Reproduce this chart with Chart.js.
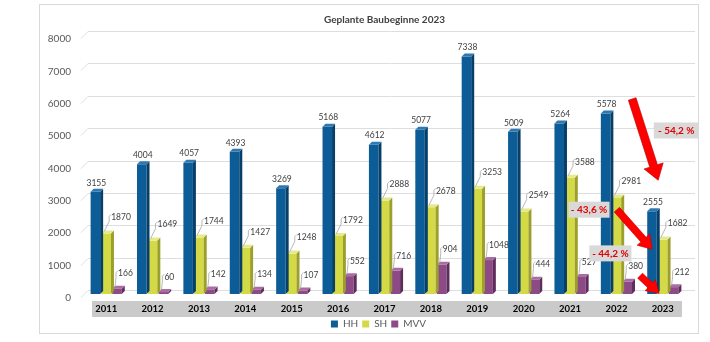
<!DOCTYPE html>
<html>
<head>
<meta charset="utf-8">
<script src="https://cdn.jsdelivr.net/npm/chart.js@4"></script>
<style>
  html, body { margin: 0; padding: 0; background: #fff; }
  #wrap { width: 710px; height: 342px; }
</style>
</head>
<body>
<div id="wrap"><canvas id="baubeginne"></canvas></div>
<script>
// ===== 1. Daten =====
const jahre = ['2011', '2012', '2013', '2014', '2015', '2016', '2017', '2018', '2019', '2020', '2021', '2022', '2023'];

const hh  = [3155, 4004, 4057, 4393, 3269, 5168, 4612, 5077, 7338, 5009, 5264, 5578, 2555];
const sh  = [1870, 1649, 1744, 1427, 1248, 1792, 2888, 2678, 3253, 2549, 3588, 2981, 1682];
const mvv = [166, 60, 142, 134, 107, 552, 716, 904, 1048, 444, 527, 380, 212];

const yMax = 8000;
const yStep = 1000;

// Rückgang 2022 -> 2023 (HH, SH, MVV)
const rueckgang = ['- 54,2 %', '- 43,6 %', '- 44,2 %'];

const schrift = 'Lato, "Open Sans", sans-serif';


// ===== 2. Plugins =====

// Hintergrund, Rahmen, Rückwand-Gitter und graues Jahresband
const hintergrund = {
  id: 'hintergrund',
  afterLayout(chart) {
    // Legende etwas nach links, wie im Original
    chart.legend.left -= 6;
    chart.legend.right -= 6;
  },
  beforeDraw(chart) {
    const { ctx, chartArea: a, scales: { y } } = chart;
    ctx.save();
    ctx.fillStyle = '#fff';
    ctx.fillRect(0, 0, chart.width, chart.height);

    ctx.strokeStyle = '#d9d9d9';
    ctx.lineWidth = 1;
    ctx.strokeRect(39.5, 4.5, 659, 329);

    ctx.strokeStyle = '#dedede';
    y.ticks.forEach(t => {
      const py = Math.round(y.getPixelForValue(t.value)) - 3.5;
      ctx.beginPath();
      ctx.moveTo(a.left - 2, py + 7);
      ctx.lineTo(a.left + 5, py);
      ctx.lineTo(a.right + 9, py);
      ctx.stroke();
    });

    ctx.fillStyle = '#cacaca';
    ctx.fillRect(a.left + 9, a.bottom + 7, a.right - a.left - 13, 16);
    ctx.restore();
  }
};

// 3D-Seiten und Deckel der Säulen
const tiefe = {
  id: 'tiefe',
  afterDatasetDraw(chart, args) {
    const ctx = chart.ctx;
    const ds = chart.data.datasets[args.index];
    const d = 3;
    ctx.save();
    args.meta.data.forEach(bar => {
      const { x, y, base, width } = bar.getProps(['x', 'y', 'base', 'width'], true);
      const l = x - width / 2;
      const r = x + width / 2;

      ctx.fillStyle = ds.seite;
      ctx.beginPath();
      ctx.moveTo(r, y);
      ctx.lineTo(r + d, y - d);
      ctx.lineTo(r + d, base - d);
      ctx.lineTo(r, base);
      ctx.closePath();
      ctx.fill();

      ctx.fillStyle = ds.deckel;
      ctx.beginPath();
      ctx.moveTo(l, y);
      ctx.lineTo(l + d, y - d);
      ctx.lineTo(r + d, y - d);
      ctx.lineTo(r, y);
      ctx.closePath();
      ctx.fill();
    });
    ctx.restore();
  }
};

// Wertebeschriftung (SH und MVV mit Führungslinie)
const werte = {
  id: 'werte',
  afterDatasetsDraw(chart) {
    const ctx = chart.ctx;
    ctx.save();
    ctx.font = '8.5px ' + schrift;
    ctx.textBaseline = 'middle';
    ctx.textAlign = 'left';

    chart.data.datasets.forEach((ds, di) => {
      const meta = chart.getDatasetMeta(di);
      meta.data.forEach((bar, i) => {
        const text = String(ds.data[i]);
        const w = ctx.measureText(text).width;
        let lx, ly;

        if (di === 0) {
          lx = bar.x + 1 - w / 2;
          ly = bar.y - 9;
        } else {
          lx = bar.x + (di === 1 ? 5 : 1);
          ly = bar.y - (di === 1 ? 16 : 15);

          ctx.strokeStyle = '#a6a6a6';
          ctx.lineWidth = 0.8;
          ctx.beginPath();
          ctx.moveTo(bar.x - 2, bar.y - 2);
          ctx.lineTo(lx - 2, ly + 4);
          ctx.lineTo(lx - 2, ly - 1);
          ctx.lineTo(lx, ly - 3);
          ctx.stroke();
        }

        ctx.fillStyle = '#404040';
        ctx.fillText(text, lx, ly);
      });
    });
    ctx.restore();
  }
};

// Pfeile und Prozent-Kästchen (in Datenkoordinaten: Jahr-Index, Wert)
const pfeile = [
  { von: [11.34, 6024], nach: [11.90, 3514], schaft: 4, kopf: 10, laenge: 15 },
  { von: [11.01, 2604], nach: [11.77, 1380], schaft: 3.5, kopf: 8.5, laenge: 13 },
  { von: [11.51, 565],  nach: [11.92, 20],   schaft: 3.5, kopf: 7.5, laenge: 12 }
];

const kaestchen = [
  { mitte: [12.29, 5051], breite: 45 },
  { mitte: [10.41, 2604], breite: 41 },
  { mitte: [10.87, 1255], breite: 42 }
];

const markierung = {
  id: 'markierung',
  afterDraw(chart) {
    const { ctx, scales: { x, y } } = chart;
    ctx.save();

    pfeile.forEach(p => {
      const x1 = x.getPixelForValue(p.von[0]);
      const y1 = y.getPixelForValue(p.von[1]);
      const x2 = x.getPixelForValue(p.nach[0]);
      const y2 = y.getPixelForValue(p.nach[1]);
      const len = Math.hypot(x2 - x1, y2 - y1);
      const ang = Math.atan2(y2 - y1, x2 - x1);

      ctx.save();
      ctx.translate(x1, y1);
      ctx.rotate(ang);
      ctx.beginPath();
      ctx.moveTo(0, -p.schaft);
      ctx.lineTo(len - p.laenge, -p.schaft);
      ctx.lineTo(len - p.laenge, -p.kopf);
      ctx.lineTo(len, 0);
      ctx.lineTo(len - p.laenge, p.kopf);
      ctx.lineTo(len - p.laenge, p.schaft);
      ctx.lineTo(0, p.schaft);
      ctx.closePath();
      ctx.fillStyle = '#ff0000';
      ctx.fill();
      ctx.strokeStyle = '#c00000';
      ctx.lineWidth = 0.6;
      ctx.stroke();
      ctx.restore();
    });

    ctx.font = 'bold 10px ' + schrift;
    ctx.textAlign = 'center';
    ctx.textBaseline = 'middle';
    kaestchen.forEach((k, i) => {
      const cx = x.getPixelForValue(k.mitte[0]);
      const cy = y.getPixelForValue(k.mitte[1]);
      ctx.fillStyle = '#d9d9d9';
      ctx.fillRect(cx - k.breite / 2, cy - 8, k.breite, 16);
      ctx.fillStyle = '#e00000';
      ctx.fillText(rueckgang[i], cx, cy + 0.5);
    });

    ctx.restore();
  }
};


// ===== 3. Diagramm =====
const ctx = document.getElementById('baubeginne');

new Chart(ctx, {
  type: 'bar',

  data: {
    labels: jahre,
    datasets: [
      {
        label: 'HH',
        data: hh,
        backgroundColor: '#0c5d97',
        seite: '#073f69',
        deckel: '#3079b0'
      },
      {
        label: 'SH',
        data: sh,
        backgroundColor: '#d3da46',
        seite: '#9c9f2b',
        deckel: '#e6ea8c'
      },
      {
        label: 'MVV',
        data: mvv,
        backgroundColor: '#8c4a86',
        seite: '#5e2d5a',
        deckel: '#aa6ca5'
      }
    ]
  },

  options: {
    responsive: true,
    maintainAspectRatio: false,
    animation: false,
    devicePixelRatio: 1,

    datasets: {
      bar: {
        borderWidth: 0,
        barPercentage: 0.88,
        categoryPercentage: 0.7
      }
    },

    layout: {
      padding: { left: 40, right: 24, top: 0, bottom: 3 }
    },

    plugins: {
      title: {
        display: true,
        fullSize: false,
        text: 'Geplante Baubeginne 2023',
        color: '#404040',
        font: { family: schrift, size: 10, weight: 'bold' },
        padding: { top: 14, bottom: 9 }
      },
      legend: {
        position: 'bottom',
        fullSize: false,
        labels: {
          color: '#595959',
          font: { family: schrift, size: 10 },
          boxWidth: 7,
          boxHeight: 7,
          padding: 4
        }
      },
      tooltip: { enabled: false }
    },

    scales: {
      x: {
        grid: { display: false, drawTicks: false },
        border: { display: false },
        ticks: {
          color: '#000',
          font: { family: schrift, size: 9.5, weight: 'bold' },
          padding: 9
        },
        afterFit(scale) { scale.height = 21; }
      },

      y: {
        min: 0,
        max: yMax,
        grid: { display: false, drawTicks: false },
        border: { display: false },
        ticks: {
          stepSize: yStep,
          color: '#595959',
          font: { family: schrift, size: 10 },
          padding: 12,
          labelOffset: 4,
          callback: v => String(v)
        },
        afterFit(scale) { scale.width = 43; }
      }
    }
  },

  plugins: [hintergrund, tiefe, werte, markierung]
});
</script>
</body>
</html>
